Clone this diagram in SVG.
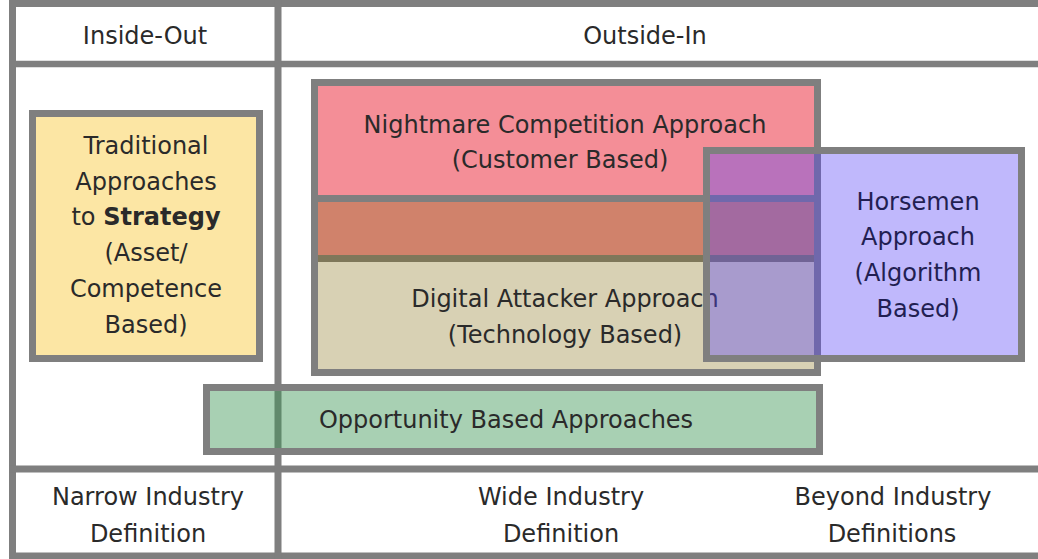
<svg xmlns="http://www.w3.org/2000/svg" width="1038" height="559" viewBox="0 0 1038 559">
<style>
text{font-family:"DejaVu Sans","Liberation Sans",sans-serif;font-size:24px;fill:#2a2a2a;text-anchor:middle}
.ln{stroke:#7f7f7f;fill:none}
.bx{stroke:#7f7f7f;stroke-width:7}
.hz text{fill:#221f52}
</style>
<rect width="1038" height="559" fill="#ffffff"/>
<g id="grid">
<rect class="ln" x="12.5" y="3.5" width="1040" height="552.5" stroke-width="7"/>
<line class="ln" x1="9" y1="64" x2="1038" y2="64" stroke-width="6.5"/>
<line class="ln" x1="9" y1="469" x2="1038" y2="469" stroke-width="7"/>
<line class="ln" x1="278" y1="0" x2="278" y2="559" stroke-width="7"/>
</g>
<g id="header-inside-out"><text x="145" y="44">Inside-Out</text></g>
<g id="header-outside-in"><text x="645" y="44">Outside-In</text></g>
<g id="traditional">
<rect class="bx" x="32.5" y="113.5" width="227" height="245" fill="#fce6a4"/>
<text x="146" y="154">Traditional</text>
<text x="146" y="190">Approaches</text>
<text x="146" y="225">to <tspan font-weight="bold">Strategy</tspan></text>
<text x="146" y="261">(Asset/</text>
<text x="146" y="297">Competence</text>
<text x="146" y="333">Based)</text>
</g>
<g id="nightmare">
<rect class="bx" x="314.5" y="82.5" width="503" height="176" fill="#f48e97"/>
<text x="565" y="133">Nightmare Competition Approach</text>
<text x="560" y="168">(Customer Based)</text>
</g>
<g id="digital">
<rect x="314.5" y="198.5" width="503" height="174" fill="#7d6608" fill-opacity="0.3"/>
<rect x="314.5" y="198.5" width="503" height="174" fill="none" class="bx"/>
<text x="565" y="307">Digital Attacker Approach</text>
<text x="565" y="343">(Technology Based)</text>
</g>
<g id="horsemen" class="hz">
<rect class="bx" x="706.5" y="150.5" width="315" height="208" fill="#5944f7" fill-opacity="0.38"/>
<rect class="bx" x="706.5" y="150.5" width="315" height="208" fill="none"/>
<text x="918" y="210">Horsemen</text>
<text x="918" y="245">Approach</text>
<text x="918" y="281">(Algorithm</text>
<text x="918" y="317">Based)</text>
</g>
<g id="opportunity">
<rect x="206.5" y="387.5" width="613" height="64" fill="#3e9756" fill-opacity="0.45"/>
<rect class="bx" x="206.5" y="387.5" width="613" height="64" fill="none"/>
<text x="506" y="428">Opportunity Based Approaches</text>
</g>
<g id="footer-narrow"><text x="148" y="505">Narrow Industry</text><text x="148" y="542">Definition</text></g>
<g id="footer-wide"><text x="561" y="505">Wide Industry</text><text x="561" y="542">Definition</text></g>
<g id="footer-beyond"><text x="893" y="505">Beyond Industry</text><text x="892" y="542">Definitions</text></g>
<g id="connectors"></g>
</svg>
